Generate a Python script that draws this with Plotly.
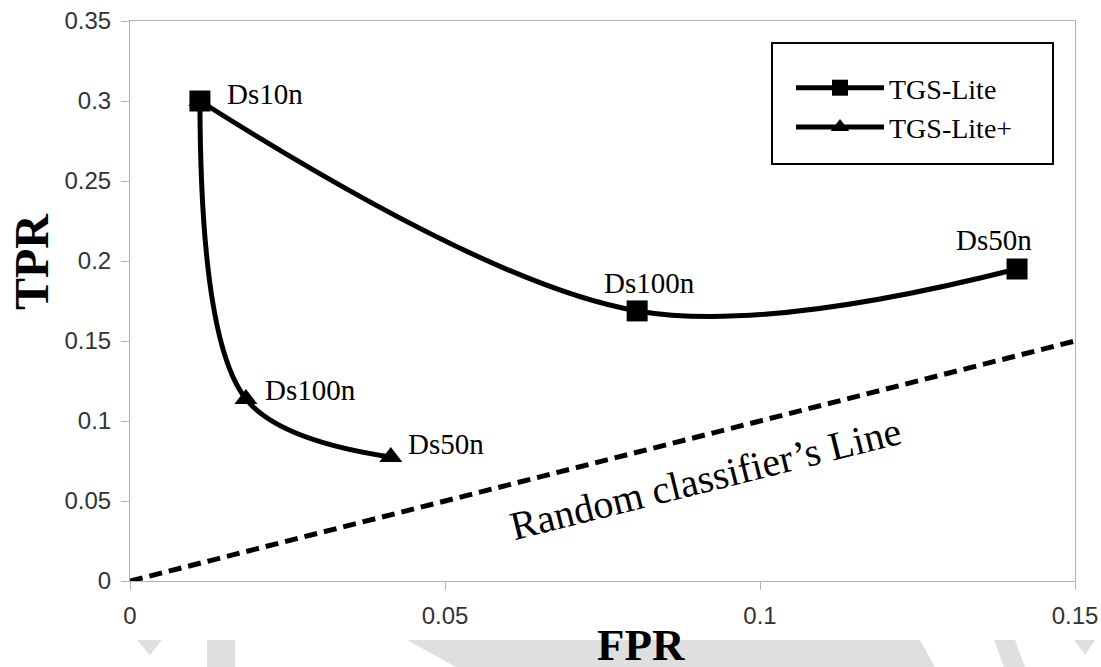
import plotly.graph_objects as go

# ---------------- data ----------------
lite_labels = ["Ds10n", "Ds100n", "Ds50n"]
lite_fpr = [0.0111, 0.0805, 0.1408]
lite_tpr = [0.300, 0.1688, 0.195]

plus_labels = ["Ds10n", "Ds100n", "Ds50n"]
plus_fpr = [0.0111, 0.0184, 0.0414]
plus_tpr = [0.300, 0.1138, 0.0775]

random_fpr = [0.0, 0.15]
random_tpr = [0.0, 0.15]

x_ticks = [0, 0.05, 0.1, 0.15]
x_ticktext = ["0", "0.05", "0.1", "0.15"]
y_ticks = [0, 0.05, 0.1, 0.15, 0.2, 0.25, 0.3, 0.35]
y_ticktext = ["0", "0.05", "0.1", "0.15", "0.2", "0.25", "0.3", "0.35"]

# label offsets (pixels) relative to points
lite_label_shift = [(65, 7), (12, 28), (-23, 29)]
plus_label_shift = [None, (65, 9), (55, 13)]

# ---------------- layout geometry ----------------
W, H = 1101, 667
PL, PR, PT, PB = 130, 1075, 21, 581          # plot area in page pixels
ML, MT = PL, PT
MR, MB = W - PR, H - PB
PW, PH = PR - PL, PB - PT


def px(x):
    return (x - PL) / PW


def py(y):
    return (PB - y) / PH


SERIF = "Liberation Serif"
SANS = "Liberation Sans"

fig = go.Figure()

fig.add_trace(go.Scatter(
    x=random_fpr, y=random_tpr, mode="lines",
    line=dict(color="black", width=5, dash="13px,7px"),
    showlegend=False, hoverinfo="skip"))

fig.add_trace(go.Scatter(
    x=plus_fpr, y=plus_tpr, mode="lines+markers", name="TGS-Lite+",
    line=dict(color="black", width=5, shape="spline", smoothing=1.0),
    marker=dict(symbol="triangle-up", size=20, color="black")))

fig.add_trace(go.Scatter(
    x=lite_fpr, y=lite_tpr, mode="lines+markers", name="TGS-Lite",
    line=dict(color="black", width=5, shape="spline", smoothing=1.0),
    marker=dict(symbol="square", size=21, color="black")))

annotations = []
for lab, xv, yv, sh in zip(lite_labels, lite_fpr, lite_tpr, lite_label_shift):
    if sh is None:
        continue
    annotations.append(dict(x=xv, y=yv, xref="x", yref="y", text=lab, showarrow=False,
                            xshift=sh[0], yshift=sh[1],
                            font=dict(family=SERIF, size=29, color="black")))
for lab, xv, yv, sh in zip(plus_labels, plus_fpr, plus_tpr, plus_label_shift):
    if sh is None:
        continue
    annotations.append(dict(x=xv, y=yv, xref="x", yref="y", text=lab, showarrow=False,
                            xshift=sh[0], yshift=sh[1],
                            font=dict(family=SERIF, size=29, color="black")))

annotations.append(dict(x=0.0914, y=0.0638, xref="x", yref="y",
                        text="Random classifier’s Line", showarrow=False, textangle=-14,
                        font=dict(family=SERIF, size=40, color="black")))

annotations.append(dict(x=px(641), y=py(645), xref="paper", yref="paper", text="<b>FPR</b>",
                        showarrow=False, xanchor="center", yanchor="middle",
                        font=dict(family=SERIF, size=45, color="black")))
annotations.append(dict(x=px(31), y=py(262), xref="paper", yref="paper", text="<b>TPR</b>",
                        showarrow=False, xanchor="center", yanchor="middle", textangle=-90,
                        font=dict(family=SERIF, size=48, color="black")))

shapes = []
gray = "#dfdfdf"
polys = [
    [(137, 640), (162, 640), (150, 655)],
    [(207, 640), (235, 640), (235, 667), (207, 667)],
    [(407, 640), (920, 640), (935, 667), (456, 667)],
    [(994, 640), (1015, 640), (1025, 667), (1004, 667)],
    [(1074, 640), (1095, 640), (1085, 655)],
]
for poly in polys:
    path = "M " + " L ".join(f"{px(a):.5f},{py(b):.5f}" for a, b in poly) + " Z"
    shapes.append(dict(type="path", xref="paper", yref="paper", path=path,
                       fillcolor=gray, line=dict(width=0), layer="below"))

# legend frame
shapes.append(dict(type="rect", xref="paper", yref="paper",
                   x0=px(772), x1=px(1053), y0=py(164), y1=py(43),
                   line=dict(color="black", width=2), fillcolor="white", layer="above"))

fig.update_layout(
    width=W, height=H, autosize=False,
    margin=dict(l=ML, r=MR, t=MT, b=MB, autoexpand=False),
    paper_bgcolor="white", plot_bgcolor="white",
    showlegend=True,
    legend=dict(x=px(791), y=py(63), xanchor="left", yanchor="top",
                bgcolor="rgba(0,0,0,0)", borderwidth=0,
                font=dict(family=SERIF, size=28, color="black"),
                traceorder="reversed", itemwidth=88),
    annotations=annotations, shapes=shapes,
    xaxis=dict(range=[0, 0.15], tickvals=x_ticks, ticktext=x_ticktext,
               showgrid=False, zeroline=False, showline=True, linecolor="#b3b3b3",
               linewidth=1, mirror=True, ticks="outside", ticklen=8, tickcolor="#b3b3b3",
               ticklabelstandoff=5, automargin=False, ticklabeloverflow="allow",
               tickfont=dict(family=SANS, size=24, color="#333333")),
    yaxis=dict(range=[0, 0.35], tickvals=y_ticks, ticktext=y_ticktext,
               showgrid=False, zeroline=False, showline=True, linecolor="#b3b3b3",
               linewidth=1, mirror=True, ticks="outside", ticklen=8, tickcolor="#b3b3b3",
               ticklabelstandoff=5, automargin=False, ticklabeloverflow="allow",
               tickfont=dict(family=SANS, size=24, color="#333333")),
)

fig.write_html(
    "out.html",
    config={"displayModeBar": False},
    post_script="document.body.style.margin='0';document.body.style.overflow='hidden';",
)
